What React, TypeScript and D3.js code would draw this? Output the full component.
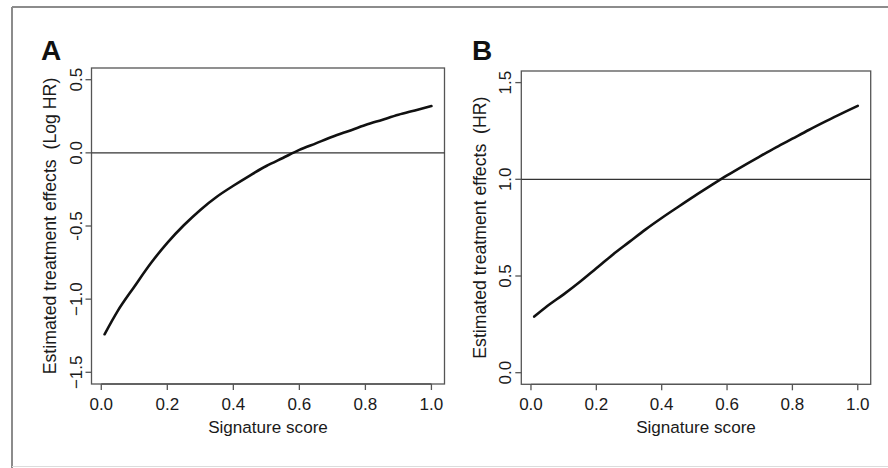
import React from "react";
import * as d3 from "d3";

const scores = [0.01, 0.05, 0.1, 0.15, 0.2, 0.25, 0.3, 0.35, 0.4, 0.45, 0.5, 0.55, 0.6, 0.65, 0.7, 0.75, 0.8, 0.85, 0.9, 0.95, 1.0];
const logHR = [-1.24, -1.08, -0.915, -0.755, -0.615, -0.495, -0.39, -0.3, -0.225, -0.155, -0.09, -0.035, 0.02, 0.065, 0.11, 0.15, 0.19, 0.225, 0.26, 0.29, 0.32];
const hr = [0.29, 0.345, 0.405, 0.47, 0.54, 0.61, 0.675, 0.74, 0.8, 0.857, 0.913, 0.967, 1.02, 1.07, 1.118, 1.165, 1.21, 1.255, 1.298, 1.34, 1.38];

const xTicks = [0, 0.2, 0.4, 0.6, 0.8, 1.0];
const xTickLabels = ["0.0", "0.2", "0.4", "0.6", "0.8", "1.0"];
const yTicksA = [0.5, 0, -0.5, -1.0, -1.5];
const yTickLabelsA = ["0.5", "0.0", "-0.5", "\u22121.0", "\u22121.5"];
const yTicksB = [0, 0.5, 1.0, 1.5];
const yTickLabelsB = ["0.0", "0.5", "1.0", "1.5"];

const FONT = "'Liberation Sans', Arial, Helvetica, sans-serif";

type PanelProps = {
  letter: string;
  letterX: number;
  box: { l: number; r: number; t: number; b: number };
  yDomain: [number, number];
  yTicks: number[];
  yTickLabels: string[];
  refY: number;
  values: number[];
  yLabel: string;
  yLabelX: number;
};

function Panel(p: PanelProps) {
  const { box } = p;
  const x = d3.scaleLinear().domain([-0.0296, 1.0396]).range([box.l, box.r]);
  const yr = p.yDomain[1] - p.yDomain[0];
  const y = d3
    .scaleLinear()
    .domain([p.yDomain[0] - yr * 0.04, p.yDomain[1] + yr * 0.04])
    .range([box.b, box.t]);
  const line = d3
    .line<number>()
    .x((_, i) => x(scores[i]))
    .y((v) => y(v))
    .curve(d3.curveMonotoneX);
  const tl = 6;
  const cy = (box.t + box.b) / 2;
  const cx = (box.l + box.r) / 2;
  return (
    <g fontFamily={FONT} fill="#1a1a1a">
      <text x={p.letterX} y={60} fontSize={28} fontWeight="bold" fill="#111">
        {p.letter}
      </text>
      <rect x={box.l} y={box.t} width={box.r - box.l} height={box.b - box.t} fill="none" stroke="#555" strokeWidth={1.3} />
      <line x1={box.l} x2={box.r} y1={y(p.refY)} y2={y(p.refY)} stroke="#333" strokeWidth={1.2} />
      <path d={line(p.values) || ""} fill="none" stroke="#111" strokeWidth={2.6} strokeLinejoin="round" strokeLinecap="round" />
      <line x1={x(0)} x2={x(1)} y1={box.b} y2={box.b} stroke="#555" strokeWidth={1.3} />
      {xTicks.map((t, i) => (
        <g key={"x" + i}>
          <line x1={x(t)} x2={x(t)} y1={box.b} y2={box.b + tl} stroke="#555" strokeWidth={1.3} />
          <text x={x(t)} y={409.5} fontSize={17} textAnchor="middle">
            {xTickLabels[i]}
          </text>
        </g>
      ))}
      <text x={cx} y={433} fontSize={17.1} textAnchor="middle">
        Signature score
      </text>
      {p.yTicks.map((t, i) => (
        <g key={"y" + i}>
          <line x1={box.l - tl} x2={box.l} y1={y(t)} y2={y(t)} stroke="#555" strokeWidth={1.3} />
          <text
            transform={`translate(${box.l - 10},${y(t)}) rotate(-90)`}
            fontSize={17}
            textAnchor="middle"
          >
            {p.yTickLabels[i]}
          </text>
        </g>
      ))}
      <text transform={`translate(${p.yLabelX},${cy}) rotate(-90)`} fontSize={17.7} textAnchor="middle">
        {p.yLabel}
      </text>
    </g>
  );
}

export default function App() {
  return (
    <svg
      width={888}
      height={468}
      style={{ position: "absolute", left: 0, top: 0, background: "#fff" }}
    >
      <rect x={0} y={0} width={888} height={468} fill="#fff" />
      <line x1={12} x2={888} y1={7} y2={7} stroke="#8c8c8c" strokeWidth={2} />
      <line x1={12} x2={12} y1={7} y2={468} stroke="#8c8c8c" strokeWidth={2} />
      <line x1={12} x2={888} y1={466.5} y2={466.5} stroke="#dcdcdc" strokeWidth={1} />
      <Panel
        letter="A"
        letterX={41}
        box={{ l: 91.5, r: 444.5, t: 68, b: 384 }}
        yDomain={[-1.5, 0.5]}
        yTicks={yTicksA}
        yTickLabels={yTickLabelsA}
        refY={0}
        values={logHR}
        yLabel={"Estimated treatment effects\u00a0\u00a0(Log HR)"}
        yLabelX={55.5}
      />
      <Panel
        letter="B"
        letterX={472}
        box={{ l: 521.3, r: 870.7, t: 71, b: 384.3 }}
        yDomain={[0, 1.5]}
        yTicks={yTicksB}
        yTickLabels={yTickLabelsB}
        refY={1.0}
        values={hr}
        yLabel={"Estimated treatment effects\u00a0\u00a0(HR)"}
        yLabelX={486}
      />
    </svg>
  );
}
